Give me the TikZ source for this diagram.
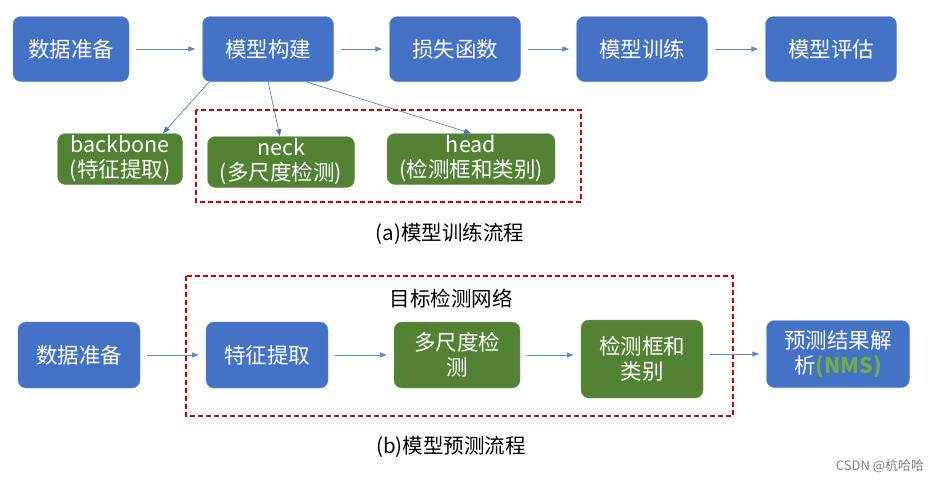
\documentclass[tikz,border=0pt]{standalone}
\usepackage{fontspec}
\setmainfont{Noto Sans CJK SC}
\usetikzlibrary{arrows.meta}
\usetikzlibrary{positioning}
\definecolor{boxblue}{HTML}{4472C4}
\definecolor{boxgreen}{HTML}{548235}
\definecolor{nmsgreen}{HTML}{70AD47}
\definecolor{dashred}{HTML}{C00000}
\tikzset{
  stepbox/.style={draw=boxblue!80!white, fill=boxblue, rounded corners=8pt, text=white,
    align=center, inner sep=1pt, font=\fontsize{21.5}{25}\selectfont},
  partbox/.style={stepbox, draw=boxgreen!80!white, fill=boxgreen},
  flow/.style={draw=boxblue!85!white, line width=0.8pt, shorten <=7pt, shorten >=7pt,
    -{Triangle[length=7pt,width=5pt]}},
  thinflow/.style={draw=boxblue, line width=0.6pt, -{Triangle[length=7pt,width=5pt]}},
  redbox/.style={draw=dashred, line width=1.6pt, dash pattern=on 5pt off 3pt},
  caption/.style={font=\fontsize{20.5}{24}\selectfont}
}
\begin{document}
\begin{tikzpicture}[x=1pt,y=-1pt]
  \useasboundingbox (0,0) rectangle (944,482);
  % (a) training
  \node (data) at (71,49) [stepbox, minimum width=116pt, minimum height=65pt] {数据准备};
  \node (model) at (268,49) [stepbox, minimum width=131pt, minimum height=65pt] {模型构建};
  \node (loss) at (455,49) [stepbox, minimum width=131pt, minimum height=65pt] {损失函数};
  \node (train) at (642,49) [stepbox, minimum width=131pt, minimum height=65pt] {模型训练};
  \node (eval) at (831,49) [stepbox, minimum width=131pt, minimum height=65pt] {模型评估};

  \node (backbone) at (120,159) [partbox, minimum width=125pt, minimum height=51pt] {backbone\\(特征提取)};
  \node (neck) at (281,162) [partbox, minimum width=147pt, minimum height=51pt] {neck\\(多尺度检测)};
  \node (head) at (471,159) [partbox, minimum width=168pt, minimum height=51pt] {head\\(检测框和类别)};
  \draw [redbox] (196,110) rectangle (581,202);
  \node (capa) at (450,234) [caption] {(a)模型训练流程};

  \draw [flow] (data) -- (model);
  \draw [flow] (model) -- (loss);
  \draw [flow] (loss) -- (train);
  \draw [flow] (train) -- (eval);
  \draw [thinflow] ([xshift=7pt]model.south west) -- ([xshift=43pt]backbone.north);
  \draw [thinflow] (model.south) -- ([xshift=-1pt]neck.north);
  \draw [thinflow] ([xshift=38pt]model.south) -- (head.north);

  % (b) prediction
  \draw [redbox] (186,276) rectangle (733,416);
  \node (net) at (451,299) [caption] {目标检测网络};
  \node (data2) at (79,355) [stepbox, minimum width=122pt, minimum height=66pt] {数据准备};
  \node (feat) at (267,355) [stepbox, minimum width=122pt, minimum height=66pt] {特征提取};
  \node (scale) at (457,355) [partbox, minimum width=126pt, minimum height=66pt] {多尺度检\\测};
  \node (det) at (642,359) [partbox, minimum width=122pt, minimum height=78pt] {检测框和\\类别};
  \node (nms) at (838,354) [stepbox, minimum width=143pt, minimum height=67pt] {预测结果解\\析\textcolor{nmsgreen}{\bfseries (NMS)}};
  \node (capb) at (451,447) [caption] {(b)模型预测流程};
  \node (mark) at (880,466) [text=gray, font=\fontsize{13}{15}\selectfont] {CSDN @杭哈哈};

  \draw [flow] (data2) -- (feat);
  \draw [flow] (feat) -- (scale);
  \draw [flow] (scale) -- (scale -| det.west);
  \draw [flow] (det.east |- nms) -- (nms);
\end{tikzpicture}
\end{document}
